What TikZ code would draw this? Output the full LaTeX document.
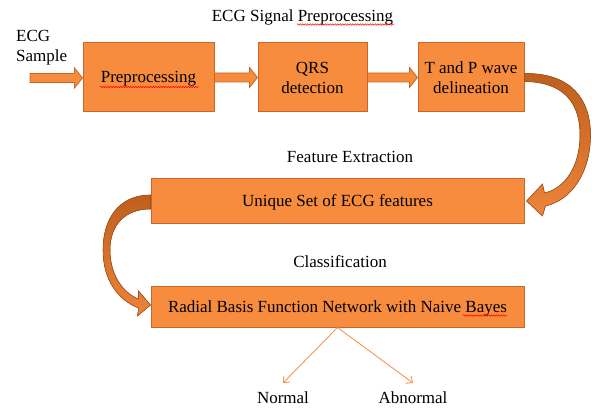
\documentclass[tikz,border=0pt]{standalone}
\usepackage{fontspec}
\setmainfont{Liberation Serif}
\usetikzlibrary{arrows.meta,calc,decorations.pathmorphing}
\definecolor{boxfill}{RGB}{247,140,62}
\definecolor{boxline}{RGB}{196,104,44}
\definecolor{bendtop}{RGB}{190,95,30}
\definecolor{bendbot}{RGB}{238,132,58}
\definecolor{thinline}{RGB}{248,150,80}

\tikzset{
  stage/.style={draw=boxline, fill=boxfill, line width=1pt, minimum height=69pt, align=center, inner sep=0pt},
  band/.style={draw=boxline, fill=boxfill, line width=1pt, minimum width=373pt, text height=12pt, text depth=1pt, inner sep=0pt},
  lbl/.style={inner sep=0pt, anchor=base},
  fatarrow/.style={draw=boxline, fill=boxfill, line width=0.8pt},
  bentarrow/.style={draw=bendtop!85!black, top color=bendtop, bottom color=bendbot, line width=0.6pt},
  outcome/.style={thinline, line width=0.9pt, -{Straight Barb[length=5pt,width=9pt]}},
  spell/.style={red, line width=0.5pt, decorate, decoration={snake, amplitude=0.7pt, segment length=2.5pt}}
}

% straight block arrow between two anchors
\newcommand{\blockarrow}[2]{%
  \filldraw[fatarrow] let \p1=(#1), \p2=(#2) in
    (\x1,\y1+4.5) -- (\x2-8,\y1+4.5) -- (\x2-8,\y1+10) -- (\x2,\y1)
    -- (\x2-8,\y1-10) -- (\x2-8,\y1-4.5) -- (\x1,\y1-4.5) -- cycle;}

\begin{document}
\begin{tikzpicture}[x=1pt, y=-1pt, font=\fontsize{17}{20}\selectfont]
  \useasboundingbox (0,0) rectangle (592,409);

  % preprocessing row
  \node[lbl] (title) at (302.5,22) {ECG Signal Preprocessing};
  \node[inner sep=0pt, anchor=north west, align=left] (src) at (16,30.5) {ECG\\Sample};
  \coordinate (ecgin) at (30,78);
  \node[stage, minimum width=131pt, text height=12pt, text depth=1pt] (pre) at (148.5,77.5) {Preprocessing};
  \node[stage, minimum width=109pt] (qrs) at (312.5,77.5) {QRS\\detection};
  \node[stage, minimum width=106pt] (tp) at (471,77.5) {T and P wave\\delineation};

  \blockarrow{ecgin}{pre.west}
  \blockarrow{pre.east}{qrs.west}
  \blockarrow{qrs.east}{tp.west}

  % features and classifier
  \node[lbl] (fx) at (350,163) {Feature Extraction};
  \node[band, minimum height=44pt] (feat) at (337.5,201) {Unique Set of ECG features};
  \node[lbl] (cls) at (340,267) {Classification};
  \node[band, minimum height=41pt] (rbf) at (337.5,306.5) {Radial Basis Function Network with Naive Bayes};

  % bent arrows
  \filldraw[bentarrow]
    ([yshift=4pt]tp.east) .. controls (572,73) and (590.5,100) .. (590.5,135)
    .. controls (590.5,172) and (572,200) .. ([xshift=21pt,yshift=-5pt]feat.east)
    -- ([xshift=18pt,yshift=-15pt]feat.east) -- ([xshift=2pt]feat.east)
    -- ([xshift=18pt,yshift=17pt]feat.east) -- ([xshift=20pt,yshift=8pt]feat.east)
    .. controls (566,188) and (580,165) .. (580,135)
    .. controls (580,103) and (564,82) .. ([yshift=-4pt]tp.east) -- cycle;
  \filldraw[bentarrow]
    ([yshift=6pt]feat.west) .. controls (118,195) and (103,220) .. (103,250)
    .. controls (103,280) and (118,300) .. ([xshift=-12pt,yshift=-1.5pt]rbf.west)
    -- ([xshift=-13pt,yshift=-9.5pt]rbf.west) -- ([yshift=1.5pt]rbf.west)
    -- ([xshift=-12pt,yshift=15.5pt]rbf.west) -- ([xshift=-12pt,yshift=7.5pt]rbf.west)
    .. controls (123,293) and (110,275) .. (110,250)
    .. controls (110,225) and (125,209) .. ([yshift=-8pt]feat.west) -- cycle;

  % outcomes
  \node[lbl, inner sep=8pt] (norm) at (283,403) {Normal};
  \node[lbl, inner sep=8pt] (abn) at (413,403) {Abnormal};
  \draw[outcome] (rbf.south) -- (norm.north);
  \draw[outcome] (rbf.south) -- (abn.north);

  % spell-check marks
  \draw[spell] (297,24.5) -- (394,24.5);
  \draw[spell] (100,87) -- (199,87);
  \draw[spell] (463,315.5) -- (507,315.5);
\end{tikzpicture}
\end{document}
